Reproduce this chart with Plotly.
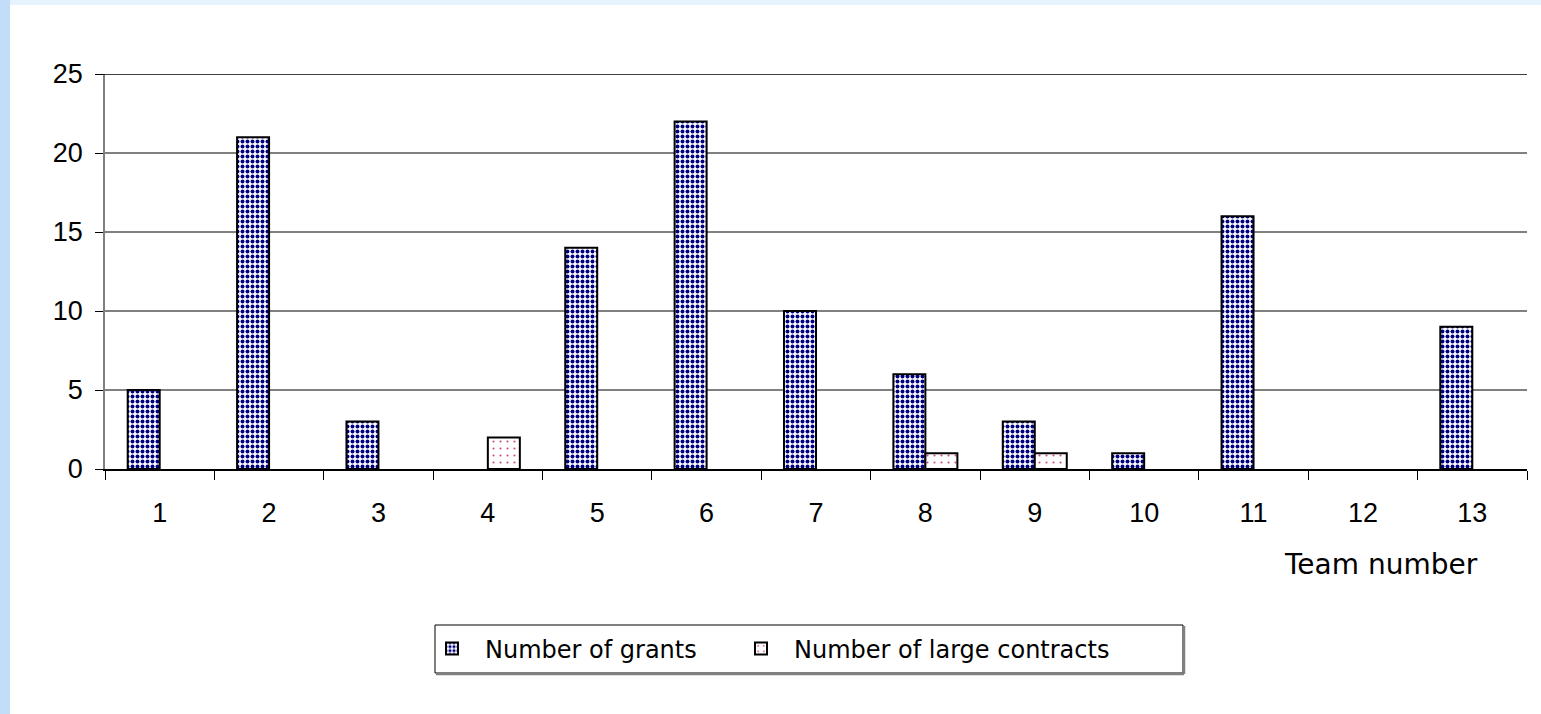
import plotly.graph_objects as go

teams = [str(i) for i in range(1, 14)]
grants = [5, 21, 3, 0, 14, 22, 10, 6, 3, 1, 16, 0, 9]
contracts = [0, 0, 0, 2, 0, 0, 0, 1, 1, 0, 0, 0, 0]

W, H = 1541, 714
L, R, T, B = 105, 14, 74, 245
pw, ph = W - L - R, H - T - B


def px_x(x):
    return (x - L) / pw


def px_y(y):
    return (H - B - y) / ph


def nonzero(vals):
    # empty teams get no bar at all
    return [v if v else None for v in vals]


fig = go.Figure()
fig.add_trace(go.Bar(
    x=teams, y=nonzero(grants), name="Number of grants", legend="legend",
    showlegend=True,
    marker=dict(
        color="white",
        line=dict(color="black", width=2),
        pattern=dict(shape=".", fgcolor="#000080", bgcolor="white",
                     size=5, solidity=0.5, fillmode="replace"),
    ),
))
fig.add_trace(go.Bar(
    x=teams, y=nonzero(contracts), name="Number of large contracts",
    legend="legend2", showlegend=True,
    marker=dict(
        color="white",
        line=dict(color="black", width=2),
        pattern=dict(shape=".", fgcolor="#d04a88", bgcolor="white",
                     size=7, solidity=0.07, fillmode="replace"),
    ),
))

# legend frame with a soft shadow on the lower/right edges
box_l, box_r, box_t, box_b = 435, 1183, 625, 673

shapes = [
    # light-blue strip down the left edge
    dict(type="rect", xref="paper", yref="paper", layer="below",
         x0=px_x(-5), x1=px_x(10), y0=px_y(H + 5), y1=px_y(-5),
         fillcolor="#c2ddf8", line=dict(width=0)),
    # white page area
    dict(type="rect", xref="paper", yref="paper", layer="below",
         x0=px_x(10), x1=px_x(W + 5), y0=px_y(H + 5), y1=px_y(5),
         fillcolor="white", line=dict(width=0)),
    # top border line of the plot area
    dict(type="line", xref="paper", yref="y", x0=px_x(97), x1=1.0,
         y0=25, y1=25, line=dict(color="black", width=1.5)),
    dict(type="rect", xref="paper", yref="paper", layer="below",
         x0=px_x(box_l), x1=px_x(box_r), y0=px_y(box_b), y1=px_y(box_t),
         fillcolor="white", line=dict(color="black", width=1)),
    dict(type="line", xref="paper", yref="paper",
         x0=px_x(box_l + 1), x1=px_x(box_r + 1),
         y0=px_y(box_b + 1), y1=px_y(box_b + 1),
         line=dict(color="#808080", width=2.5)),
    dict(type="line", xref="paper", yref="paper",
         x0=px_x(box_r + 1), x1=px_x(box_r + 1),
         y0=px_y(box_t + 1), y1=px_y(box_b + 1),
         line=dict(color="#808080", width=2.5)),
]

legend_style = dict(
    orientation="h", xanchor="left", y=px_y(649), yanchor="middle",
    borderwidth=0, bgcolor="rgba(0,0,0,0)", itemwidth=56,
    font=dict(family="DejaVu Sans", size=24, color="black"),
)

fig.update_layout(
    width=W, height=H,
    margin=dict(l=L, r=R, t=T, b=B),
    paper_bgcolor="#e6f2fd",
    plot_bgcolor="rgba(0,0,0,0)",
    showlegend=True,
    barmode="group",
    bargap=0.415,
    bargroupgap=0,
    legend=dict(x=px_x(419), **legend_style),
    legend2=dict(x=px_x(728), **legend_style),
    xaxis=dict(
        type="category", tickson="boundaries", ticks="outside", ticklen=9,
        tickcolor="black", showline=True, linecolor="black", linewidth=1.5,
        showgrid=False, ticklabelstandoff=19,
        tickfont=dict(family="Liberation Sans", size=27, color="black"),
    ),
    yaxis=dict(
        range=[0, 25], tickvals=[0, 5, 10, 15, 20, 25],
        ticks="outside", ticklen=8, tickcolor="black",
        showline=True, linecolor="#808080", linewidth=1.5,
        showgrid=True, gridcolor="#808080", gridwidth=1.5,
        zeroline=False, ticklabelstandoff=7,
        tickfont=dict(family="Liberation Sans", size=27, color="black"),
    ),
    shapes=shapes,
    annotations=[dict(
        text="Team number", xref="paper", yref="paper",
        x=px_x(1381), y=px_y(564), xanchor="center", yanchor="middle",
        showarrow=False,
        font=dict(family="DejaVu Sans", size=28, color="black"),
    )],
)

fig.write_html("out.html")
